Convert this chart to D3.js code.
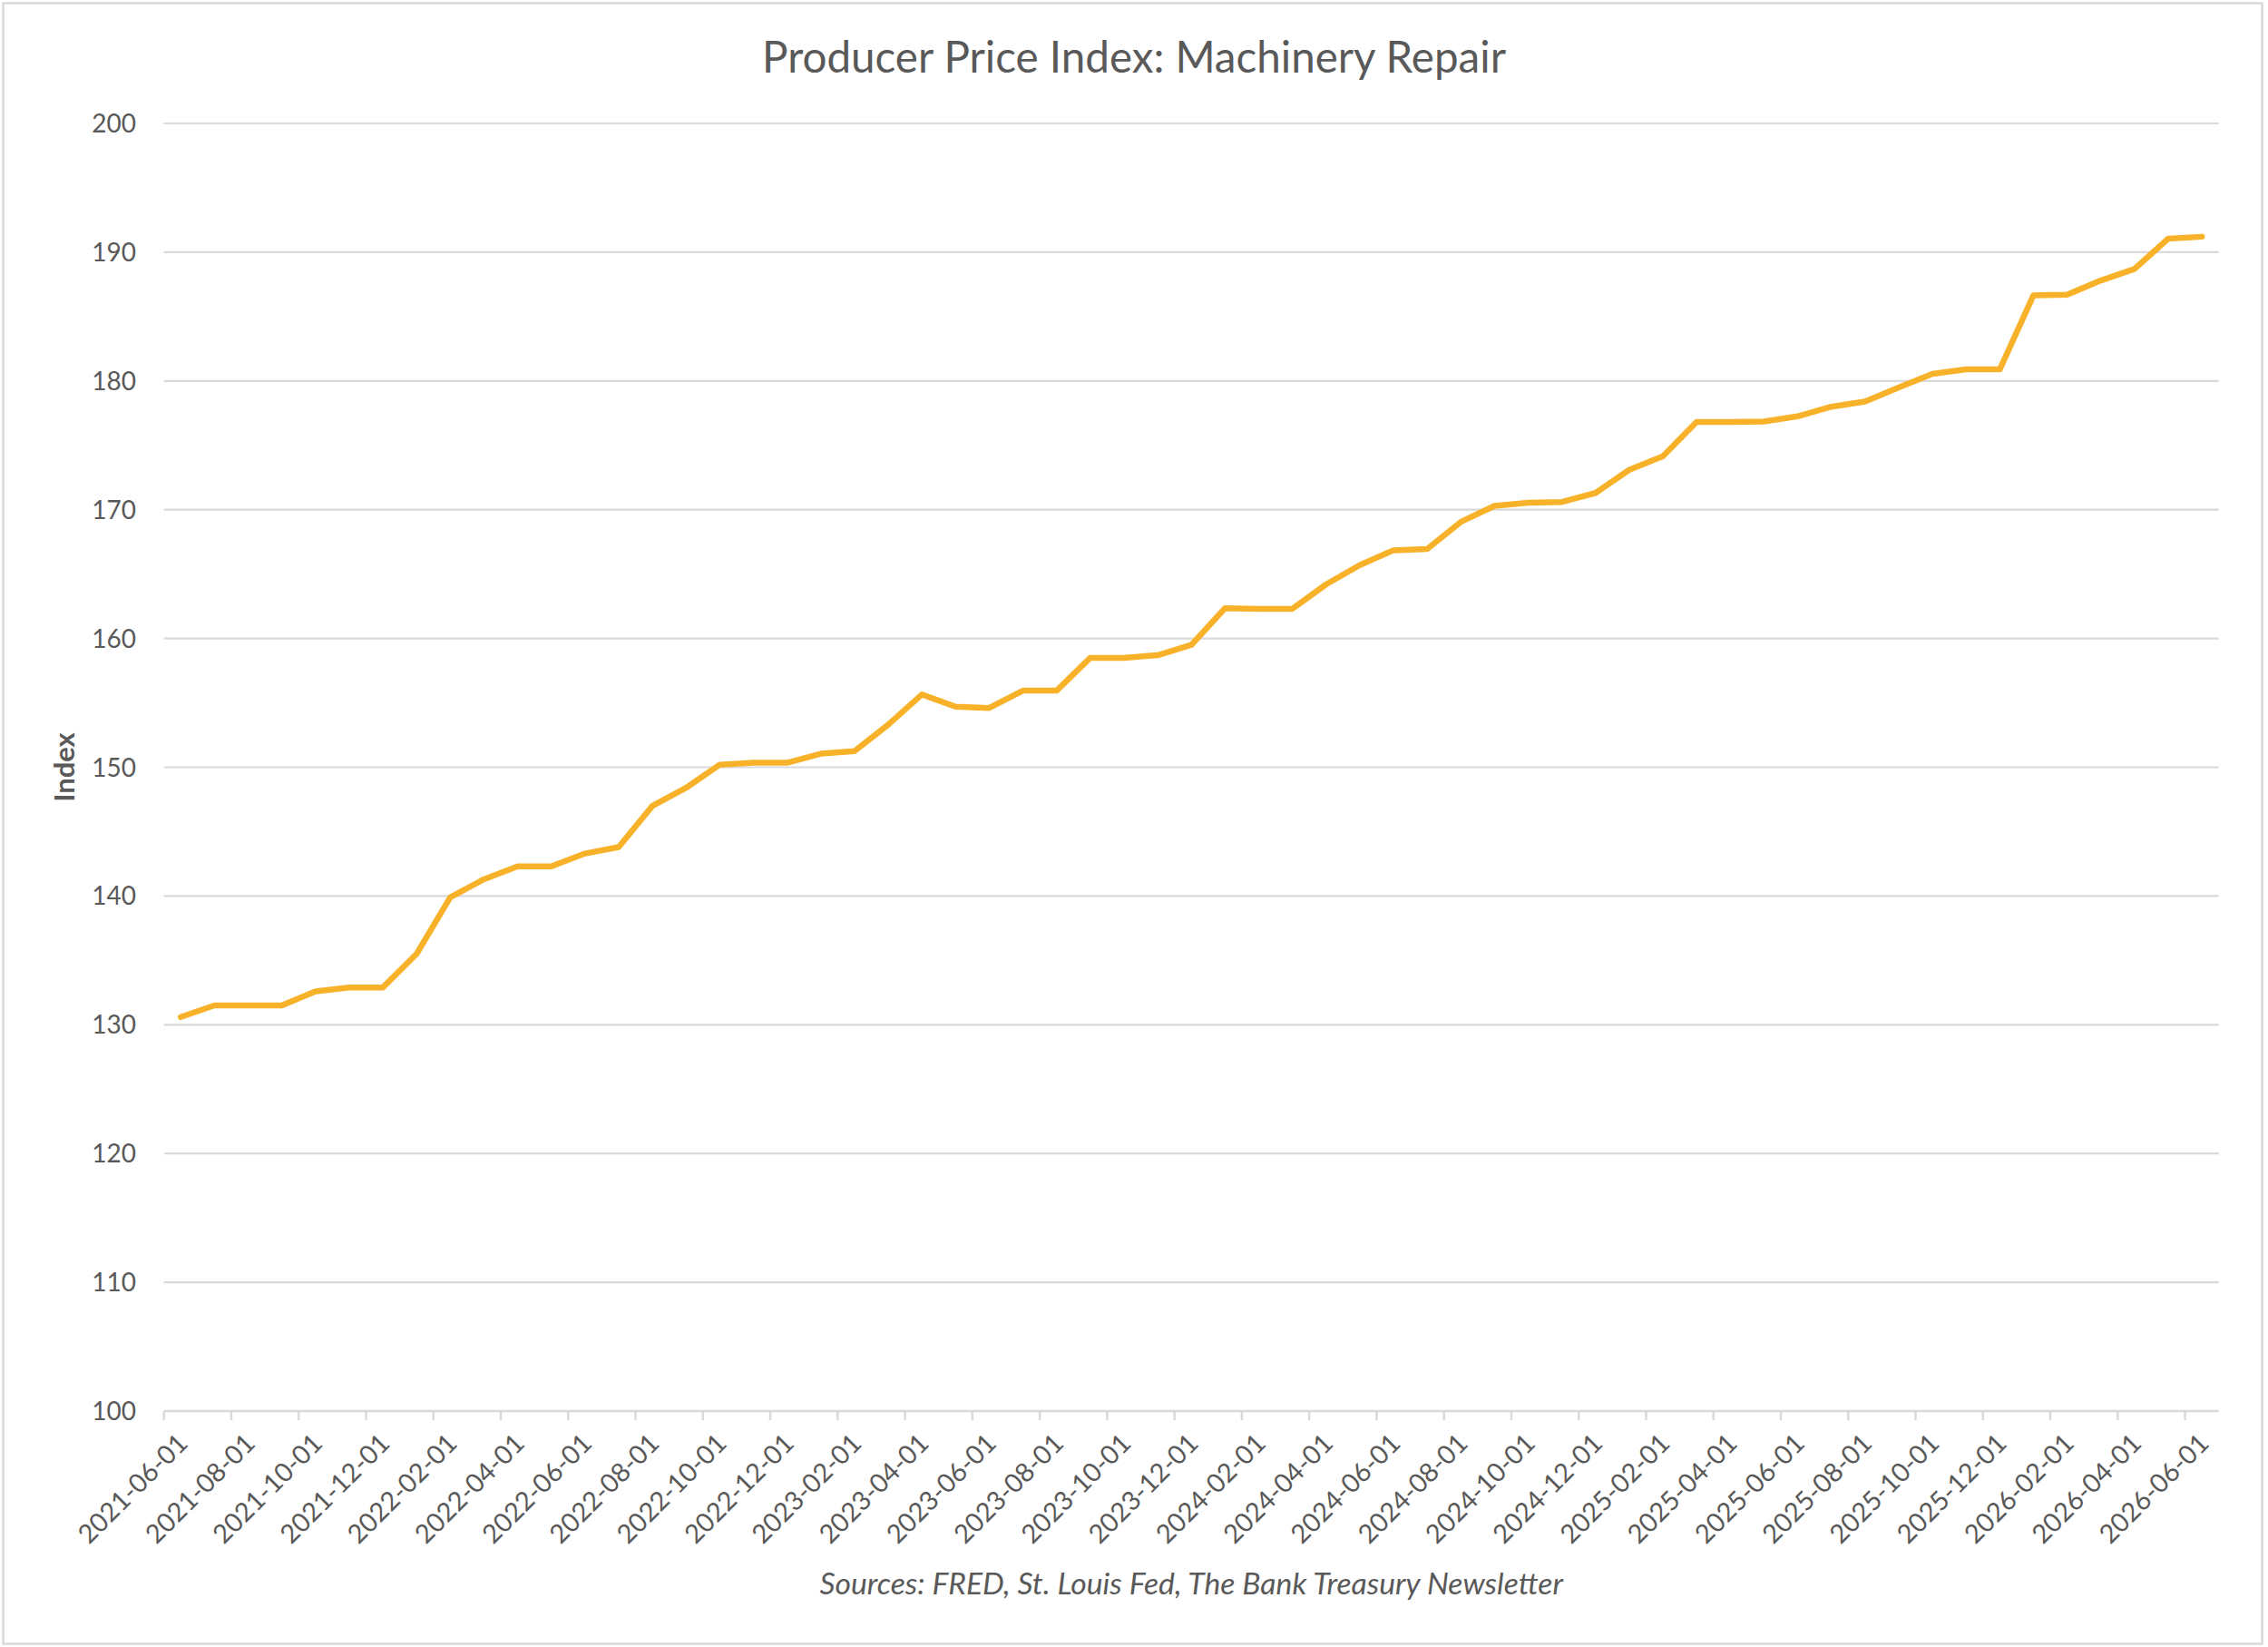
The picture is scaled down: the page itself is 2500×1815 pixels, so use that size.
<!DOCTYPE html>
<html>
<head>
<meta charset="utf-8">
<script src="https://cdn.jsdelivr.net/npm/d3@7"></script>
<style>
  html, body { margin: 0; padding: 0; background: #fff; }
  svg { display: block; }
</style>
</head>
<body>
<svg id="chart" width="2500" height="1815"></svg>
<script>
const chartTitle = "Producer Price Index: Machinery Repair";
const yAxisTitle = "Index";
const sourceText = "Sources: FRED, St. Louis Fed, The Bank Treasury Newsletter";

const dates = [
  "2021-06-01","2021-07-01","2021-08-01","2021-09-01","2021-10-01","2021-11-01","2021-12-01",
  "2022-01-01","2022-02-01","2022-03-01","2022-04-01","2022-05-01","2022-06-01","2022-07-01",
  "2022-08-01","2022-09-01","2022-10-01","2022-11-01","2022-12-01",
  "2023-01-01","2023-02-01","2023-03-01","2023-04-01","2023-05-01","2023-06-01","2023-07-01",
  "2023-08-01","2023-09-01","2023-10-01","2023-11-01","2023-12-01",
  "2024-01-01","2024-02-01","2024-03-01","2024-04-01","2024-05-01","2024-06-01","2024-07-01",
  "2024-08-01","2024-09-01","2024-10-01","2024-11-01","2024-12-01",
  "2025-01-01","2025-02-01","2025-03-01","2025-04-01","2025-05-01","2025-06-01","2025-07-01",
  "2025-08-01","2025-09-01","2025-10-01","2025-11-01","2025-12-01",
  "2026-01-01","2026-02-01","2026-03-01","2026-04-01","2026-05-01","2026-06-01"
];

const ppiValues = [
  130.6, 131.5, 131.5, 131.5, 132.6, 132.9, 132.9,
  135.5, 139.9, 141.3, 142.3, 142.3, 143.3, 143.8,
  147.0, 148.4, 150.2, 150.35, 150.35,
  151.05, 151.25, 153.3, 155.65, 154.7, 154.6, 155.95,
  155.95, 158.5, 158.5, 158.7, 159.5,
  162.35, 162.3, 162.3, 164.2, 165.7, 166.85, 166.95,
  169.05, 170.3, 170.55, 170.6, 171.3,
  173.1, 174.15, 176.82, 176.82, 176.85, 177.25, 178.0,
  178.4, 179.5, 180.55, 180.9, 180.9,
  186.65, 186.7, 187.8, 188.7, 191.05, 191.2
];

const yTicks = [100, 110, 120, 130, 140, 150, 160, 170, 180, 190, 200];
const xTickLabels = dates.filter((d, i) => i % 2 === 0);

// ---- layout ----
const W = 2500, H = 1815;
const plot = { left: 180.7, right: 2445.7, top: 136, bottom: 1555 };
const textColor = "#595959";
const gridColor = "#d9d9d9";
const lineColor = "#F8B22A";
const font = "Lato, 'Open Sans', 'DejaVu Sans', sans-serif";

const svg = d3.select("#chart");
svg.append("rect").attr("x", 0).attr("y", 0).attr("width", W).attr("height", H).attr("fill", "#fff");
svg.append("rect")
  .attr("x", 3.5).attr("y", 3.5).attr("width", 2490).attr("height", 1808)
  .attr("fill", "none").attr("stroke", gridColor).attr("stroke-width", 2.5);

const x = d3.scaleBand().domain(dates).range([plot.left, plot.right]).paddingInner(0).paddingOuter(0);
const y = d3.scaleLinear().domain([100, 200]).range([plot.bottom, plot.top]);
const cx = d => x(d) + x.bandwidth() / 2;

// gridlines
svg.append("g").selectAll("line")
  .data(yTicks.filter(t => t !== 100))
  .join("line")
  .attr("x1", plot.left).attr("x2", plot.right)
  .attr("y1", d => y(d)).attr("y2", d => y(d))
  .attr("stroke", gridColor).attr("stroke-width", 2.2);

// y labels
svg.append("g").selectAll("text")
  .data(yTicks)
  .join("text")
  .attr("x", 150).attr("y", d => y(d))
  .attr("dy", "0.36em")
  .attr("text-anchor", "end")
  .attr("font-family", font).attr("font-size", 28)
  .attr("fill", textColor)
  .text(d => d);

// x axis line
svg.append("line")
  .attr("x1", plot.left).attr("x2", plot.right)
  .attr("y1", y(100)).attr("y2", y(100))
  .attr("stroke", gridColor).attr("stroke-width", 2.5);

// x ticks (left edge of every other category)
svg.append("g").selectAll("line")
  .data(xTickLabels)
  .join("line")
  .attr("x1", d => x(d)).attr("x2", d => x(d))
  .attr("y1", y(100)).attr("y2", y(100) + 10)
  .attr("stroke", gridColor).attr("stroke-width", 2.5);

// x labels
svg.append("g").selectAll("text")
  .data(xTickLabels)
  .join("text")
  .attr("transform", d => `translate(${cx(d) + 2},${y(100) + 30}) rotate(-45)`)
  .attr("text-anchor", "end")
  .attr("dy", "0.36em")
  .attr("font-family", font).attr("font-size", 29)
  .attr("fill", textColor)
  .text(d => d);

// line
const line = d3.line().x((d, i) => cx(dates[i])).y(d => y(d));
svg.append("path")
  .datum(ppiValues)
  .attr("d", line)
  .attr("fill", "none")
  .attr("stroke", lineColor)
  .attr("stroke-width", 6.5)
  .attr("stroke-linejoin", "round")
  .attr("stroke-linecap", "round");

function fitWidth(sel, target) {
  const n = sel.node();
  const fs = parseFloat(sel.attr("font-size"));
  const w = n.getComputedTextLength();
  if (w > 0) sel.attr("font-size", (fs * target / w).toFixed(2));
}

// title
const t = svg.append("text")
  .attr("x", 1250).attr("y", 80)
  .attr("text-anchor", "middle")
  .attr("font-family", font).attr("font-size", 46)
  .attr("fill", textColor)
  .text(chartTitle);
fitWidth(t, 820);

// y axis title
svg.append("text")
  .attr("transform", `translate(82,${(plot.top + plot.bottom) / 2}) rotate(-90)`)
  .attr("text-anchor", "middle")
  .attr("font-family", font).attr("font-size", 31).attr("font-weight", "bold")
  .attr("fill", textColor)
  .text(yAxisTitle);

// source
const s = svg.append("text")
  .attr("x", (plot.left + plot.right) / 2).attr("y", 1757)
  .attr("text-anchor", "middle")
  .attr("font-family", font).attr("font-size", 32).attr("font-style", "italic")
  .attr("fill", textColor)
  .text(sourceText);
fitWidth(s, 820);
</script>
</body>
</html>
